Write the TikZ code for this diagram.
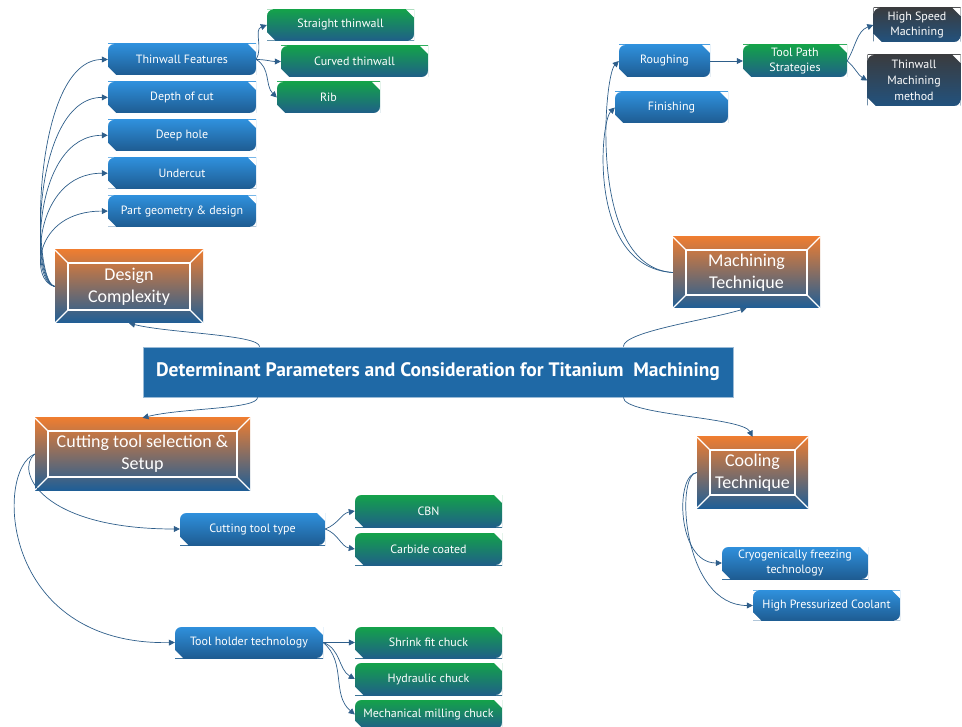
\documentclass[tikz,border=0pt]{standalone}
\usepackage{fontspec}
\setmainfont{PT Sans}
\newfontfamily\bevelfont{Carlito}
\usetikzlibrary{positioning,arrows.meta}
\definecolor{linkblue}{HTML}{2E5E8A}
\definecolor{boxtop}{HTML}{2F90DC}
\definecolor{boxbot}{HTML}{1E5C92}
\definecolor{greentop}{HTML}{14A24A}
\definecolor{greenbot}{HTML}{1F5F88}
\definecolor{darktop}{HTML}{3A3C3F}
\definecolor{darkbot}{HTML}{22527E}
\definecolor{beveltop}{HTML}{ED7D31}
\definecolor{bevelbot}{HTML}{1F5E96}
\definecolor{titleblue}{HTML}{1F69A6}
\tikzset{
	>={Triangle[length=6pt,width=6pt]},
}

\begin{document}
\begin{tikzpicture}[
		x=1pt, y=1pt,
		snip/.style={
			rectangle, minimum width=#1, minimum height=31pt, inner sep=1pt,
			top color=boxtop, bottom color=boxbot, text=white, align=center,
			font=\fontsize{12}{14.5}\selectfont,
			path picture={
				\fill[white]
					(path picture bounding box.north east) -- ++(-8pt,0) -- ++(8pt,-8pt) -- cycle
					(path picture bounding box.south west) -- ++(8pt,0) -- ++(-8pt,8pt) -- cycle
					(path picture bounding box.north west) -- ++(6pt,0)
						arc[start angle=90,end angle=180,radius=6pt] -- cycle
					(path picture bounding box.south east) -- ++(-6pt,0)
						arc[start angle=270,end angle=360,radius=6pt] -- cycle;
			},
		},
		snip/.default=148pt,
		leaf/.style={snip=#1, top color=greentop, bottom color=greenbot},
		leaf/.default=147pt,
		deep/.style={snip=#1, top color=darktop, bottom color=darkbot},
		bevel/.style 2 args={
			rectangle, minimum width=#1, minimum height=#2, inner sep=0pt,
			top color=beveltop, bottom color=bevelbot, text=white, align=center,
			font=\bevelfont\fontsize{18}{22}\selectfont,
			path picture={
				\foreach \corner/\dx/\dy in {north west/1/-1,north east/-1/-1,south west/1/1,south east/-1/1}
					\draw[white,line width=1.3pt] (path picture bounding box.\corner)
						-- ([shift={(\dx*13pt,\dy*13pt)}]path picture bounding box.\corner);
				\draw[white,line width=1.3pt]
					([shift={(13pt,-13pt)}]path picture bounding box.north west)
					rectangle ([shift={(-13pt,13pt)}]path picture bounding box.south east);
			},
		},
		heading/.style={
			rectangle, minimum width=590pt, minimum height=50pt,
			fill=titleblue, draw=white!55!titleblue, line width=0.8pt,
			text=white, font=\bfseries\fontsize{19.5}{22}\selectfont,
		},
		link/.style={->, draw=linkblue, line width=0.7pt},
	]
	\useasboundingbox (0,0) rectangle (962,-727);

	\draw node(core)[heading] at (438,-372) {Determinant Parameters and Consideration for Titanium\ \ Machining};

	% design
	\draw
		node(design)[bevel={148pt}{73pt}] at (129,-286.5) {Design\\Complexity}
		node(thin)[snip] at (182,-59.5) {Thinwall Features}
		node(depth)[snip,below=6.5pt of thin] {Depth of cut}
		node(hole)[snip,below=6.5pt of depth] {Deep hole}
		node(under)[snip,below=6.5pt of hole] {Undercut}
		node(part)[snip,below=6.5pt of under] {Part geometry \& design}
		node(straight)[leaf] at (340.5,-25) {Straight thinwall}
		node(curved)[leaf] at (354.5,-61.5) {Curved thinwall}
		node(rib)[leaf=103pt] at (328.5,-97.5) {Rib}
	;
	% machining
	\draw
		node(mach)[bevel={147pt}{71pt}] at (746.5,-272.5) {Machining\\Technique}
		node(rough)[snip=91pt,minimum height=32pt] at (664.5,-61) {Roughing}
		node(finish)[snip=113pt] at (671.5,-107.5) {Finishing}
		node(toolpath)[leaf=104pt,minimum height=32pt] at (795,-61) {Tool Path\\Strategies}
		node(speed)[deep=87pt,minimum height=34pt] at (917,-25) {High Speed\\Machining}
		node(wallm)[deep=93pt,minimum height=51pt,font=\fontsize{12}{16}\selectfont] at (914,-80.5) {Thinwall\\Machining\\method}
	;
	% cooling
	\draw
		node(cool)[bevel={111pt}{71pt}] at (752.5,-472.5) {Cooling\\Technique}
		node(cryo)[snip=146pt,minimum height=32pt,font=\fontsize{12}{15.5}\selectfont] at (795,-563) {Cryogenically freezing\\technology}
		node(press)[snip=147pt,minimum height=30pt] at (826.5,-605.5) {High Pressurized Coolant}
	;
	% cutting tool
	\draw
		node(cut)[bevel={215pt}{72pt}] at (142.5,-454) {Cutting tool selection \&\\Setup}
		node(ctype)[snip=145pt,minimum height=32pt] at (252.5,-529) {Cutting tool type}
		node(cbn)[leaf,minimum height=32pt] at (428.5,-511) {CBN}
		node(carb)[leaf,minimum height=32pt] at (428.5,-549) {Carbide coated}
		node(holder)[snip=148pt] at (249,-642.5) {Tool holder technology}
		node(shrink)[leaf] at (428.5,-642.5) {Shrink fit chuck}
		node(hydro)[leaf,minimum height=32pt] at (428.5,-679) {Hydraulic chuck}
		node(mech)[leaf,minimum height=29pt] at (428.5,-714.5) {Mechanical milling chuck}
	;

	\draw[link] ([xshift=117pt]core.north west) .. controls +(0,12) and +(40,-10) .. (design.south);
	\draw[link] ([xshift=115pt]core.south west) .. controls +(0,-12) and +(40,10) .. (cut.north);
	\draw[link] ([xshift=-110pt]core.north east) .. controls +(0,15) and +(-40,-12) .. (mach.south);
	\draw[link] ([xshift=-110pt]core.south east) .. controls +(0,-18) and +(-10,20) .. (cool.north);

	\foreach \n in {thin,depth,hole,under,part}
		\draw[link] (design.west) .. controls +(-25,5) and +(-75,0) .. (\n.west);
	\draw[link] (thin.east) to[out=60,in=200] (straight.west);
	\draw[link] (thin.east) to[out=0,in=180] (curved.west);
	\draw[link] (thin.east) to[out=-30,in=135] (rib.west);

	\draw[link] (mach.west) .. controls +(-85,5) and +(-15,-15) .. (rough.west);
	\draw[link] (mach.west) .. controls +(-85,5) and +(-15,-15) .. (finish.west);
	\draw[link] (rough.east) -- (toolpath.west);
	\draw[link] (toolpath.east) to[out=60,in=200] (speed.west);
	\draw[link] (toolpath.east) to[out=-40,in=150] (wallm.west);

	\draw[link] (cool.west) .. controls +(-22,-2) and +(-45,0) .. (cryo.west);
	\draw[link] (cool.west) .. controls +(-22,-2) and +(-70,0) .. (press.west);

	\draw[link] (cut.west) .. controls +(-20,-16) and +(-140,0) .. (ctype.west);
	\draw[link] (cut.west) .. controls +(-40,-16) and +(-175,-3) .. (holder.west);
	\draw[link] (ctype.east) to[out=20,in=190] (cbn.west);
	\draw[link] (ctype.east) to[out=-20,in=170] (carb.west);
	\draw[link] (holder.east) -- (shrink.west);
	\draw[link] (holder.east) to[out=-20,in=150] (hydro.west);
	\draw[link] (holder.east) to[out=-40,in=140] (mech.west);
\end{tikzpicture}
\end{document}
